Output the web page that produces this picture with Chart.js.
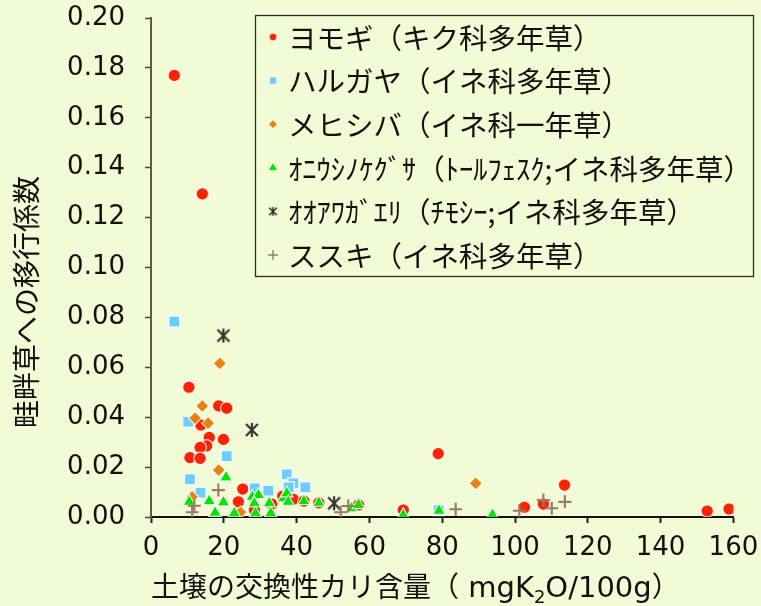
<!DOCTYPE html>
<html>
<head>
<meta charset="utf-8">
<script src="https://cdn.jsdelivr.net/npm/chart.js@4.4.1/dist/chart.umd.min.js"></script>
<style>
  html, body { margin: 0; padding: 0; background: #F1FCD6; }
  #wrap { width: 761px; height: 606px; }
</style>
</head>
<body>
<div id="wrap"><canvas id="c" width="761" height="606"></canvas></div>
<script>
// Series names (legend order)
const seriesNames = [
  'ヨモギ（キク科多年草）',
  'ハルガヤ（イネ科多年草）',
  'メヒシバ（イネ科一年草）',
  'ｵﾆｳｼﾉｹｸﾞｻ（ﾄｰﾙﾌｪｽｸ;イネ科多年草）',
  'ｵｵｱﾜｶﾞｴﾘ（ﾁﾓｼｰ;イネ科多年草）',
  'ススキ（イネ科多年草）'
];

// Exchangeable K (mgK2O/100g) and transfer coefficient for each species
const yomogiX = [6.4, 14.1, 10.4, 18.6, 20.8, 13.7, 16.0, 19.9, 15.3, 13.5, 10.7, 13.5, 25.2, 24.0, 36.2, 39.1, 33.2, 42.0, 46.1, 28.4, 57.0, 78.9, 113.6, 69.3, 102.6, 107.8, 152.8, 158.8];
const yomogiY = [0.177, 0.1295, 0.052, 0.0445, 0.0436, 0.0369, 0.0319, 0.0311, 0.0285, 0.0279, 0.0238, 0.0235, 0.0112, 0.0061, 0.0084, 0.0071, 0.0052, 0.0064, 0.0057, 0.0028, 0.0048, 0.0254, 0.0128, 0.0028, 0.0039, 0.0052, 0.0024, 0.0032];

const harugayaX = [6.4, 10.2, 20.8, 10.7, 13.6, 37.3, 39.1, 37.8, 42.4, 28.5, 32.2, 79.0];
const harugayaY = [0.0784, 0.0382, 0.0244, 0.0151, 0.0097, 0.0171, 0.0135, 0.0119, 0.0119, 0.0115, 0.0105, 0.0028];

const mehishibaX = [18.9, 14.1, 12.1, 15.7, 18.6, 11.3, 24.6, 89.2];
const mehishibaY = [0.0616, 0.0445, 0.0396, 0.0376, 0.0188, 0.0081, 0.0019, 0.0135];

const oniushiX = [10.5, 16.0, 19.9, 20.6, 17.6, 22.9, 27.8, 29.5, 28.4, 28.7, 32.5, 32.9, 36.4, 37.3, 37.7, 42.0, 46.1, 55.1, 57.0, 69.3, 79.1, 93.8];
const oniushiY = [0.0061, 0.0064, 0.0059, 0.0159, 0.0017, 0.0015, 0.0081, 0.0088, 0.0055, 0.0015, 0.0055, 0.0015, 0.0075, 0.0095, 0.0061, 0.0064, 0.0057, 0.0035, 0.0048, 0.0008, 0.0025, 0.0008];

const ooawaX = [19.9, 27.7, 50.3];
const ooawaY = [0.0727, 0.0349, 0.0055];

const susukiX = [18.5, 11.9, 11.3, 52.1, 54.2, 83.7, 101.2, 107.8, 110.1, 113.7];
const susukiY = [0.0108, 0.0045, 0.0019, 0.0019, 0.0044, 0.0031, 0.0025, 0.0068, 0.0035, 0.0061];

// Axis ticks
const xTickValues = [0, 20, 40, 60, 80, 100, 120, 140, 160];
const xTickLabels = ['0', '20', '40', '60', '80', '100', '120', '140', '160'];
const yTickValues = [0, 0.02, 0.04, 0.06, 0.08, 0.10, 0.12, 0.14, 0.16, 0.18, 0.20];
const yTickLabels = ['0.00', '0.02', '0.04', '0.06', '0.08', '0.10', '0.12', '0.14', '0.16', '0.18', '0.20'];

// Axis titles
const yTitle = '畦畔草への移行係数';
const xTitleParts = [
  { text: '土壌の交換性カリ含量（', kind: 'cjk' },
  { text: ' mgK', kind: 'latin' },
  { text: '2', kind: 'sub' },
  { text: 'O/100g', kind: 'latin' },
  { text: '）', kind: 'cjk' }
];

const BG = '#F1FCD6';
const CJK = '"Noto Sans CJK JP", "Noto Sans", sans-serif';
const LATIN = '"DejaVu Sans", sans-serif';

function toPoints(xs, ys) { return xs.map((v, i) => ({ x: v, y: ys[i] })); }

// Asterisk marker: an X with a vertical stroke
function makeAsterisk(size, lw, color) {
  const c = document.createElement('canvas');
  c.width = size; c.height = size;
  const g = c.getContext('2d');
  const m = size / 2, r = size / 2 - 1;
  g.strokeStyle = color; g.lineWidth = lw; g.lineCap = 'butt';
  g.beginPath();
  g.moveTo(m, m - r); g.lineTo(m, m + r);
  const d = r * 0.85;
  g.moveTo(m - d, m - d); g.lineTo(m + d, m + d);
  g.moveTo(m - d, m + d); g.lineTo(m + d, m - d);
  g.stroke();
  return c;
}
const asteriskBig = makeAsterisk(16, 2.2, '#333');
const asteriskSmall = makeAsterisk(11, 1.4, '#222');

const HALO = 'rgba(255,255,255,0.8)';
const styles = [
  { pointStyle: 'circle',   bg: '#FF2200', border: HALO, bw: 1.2, r: 6.2, lr: 3.7 },
  { pointStyle: 'rect',     bg: '#6CCDFF', border: HALO, bw: 1.5, r: 7.8, lr: 5 },
  { pointStyle: 'rectRot',  bg: '#E9800F', border: HALO, bw: 1.2, r: 6.5, lr: 4.3 },
  { pointStyle: 'triangle', bg: '#00E400', border: HALO, bw: 1.2, r: 7.2, lr: 5.2 },
  { pointStyle: asteriskBig, legendStyle: asteriskSmall, bg: '#333', border: '#333', bw: 0, r: 7, lr: 5 },
  { pointStyle: 'cross',    bg: '#9E7B68', border: '#9E7B68', bw: 2.2, r: 6.5, lr: 5, lbw: 1.4 }
];

const seriesData = [
  toPoints(yomogiX, yomogiY),
  toPoints(harugayaX, harugayaY),
  toPoints(mehishibaX, mehishibaY),
  toPoints(oniushiX, oniushiY),
  toPoints(ooawaX, ooawaY),
  toPoints(susukiX, susukiY)
];

const datasets = seriesNames.map((name, i) => ({
  label: name,
  data: seriesData[i],
  order: seriesNames.length - 1 - i,
  pointStyle: styles[i].pointStyle,
  backgroundColor: styles[i].bg,
  borderColor: styles[i].border,
  borderWidth: styles[i].bw,
  pointRadius: styles[i].r,
  pointHoverRadius: styles[i].r,
  showLine: false
}));

const backgroundPlugin = {
  id: 'paperBackground',
  beforeDraw(chart) {
    const ctx = chart.ctx;
    ctx.save();
    ctx.fillStyle = BG;
    ctx.fillRect(0, 0, chart.width, chart.height);
    ctx.restore();
  }
};

const titlesPlugin = {
  id: 'axisTitles',
  afterDraw(chart) {
    const ctx = chart.ctx;
    ctx.save();
    ctx.fillStyle = '#111';
    // vertical title
    ctx.translate(26, 302);
    ctx.rotate(-Math.PI / 2);
    ctx.font = '28px ' + CJK;
    ctx.textAlign = 'center';
    ctx.textBaseline = 'middle';
    ctx.fillText(yTitle, 0, 0);
    ctx.restore();

    // horizontal title with subscript
    ctx.save();
    ctx.fillStyle = '#111';
    ctx.textAlign = 'left';
    ctx.textBaseline = 'alphabetic';
    let x = 151;
    const base = 597;
    xTitleParts.forEach(p => {
      let font, dy = 0;
      if (p.kind === 'cjk') font = '28px ' + CJK;
      else if (p.kind === 'latin') font = '29px ' + LATIN;
      else { font = '18px ' + LATIN; dy = 6; }
      ctx.font = font;
      ctx.fillText(p.text, x, base + dy);
      x += ctx.measureText(p.text).width;
    });
    ctx.restore();
  }
};

const legendPlugin = {
  id: 'boxedLegend',
  afterDraw(chart) {
    const ctx = chart.ctx;
    const box = { x: 255.5, y: 15.5, w: 498, h: 261 };
    ctx.save();
    ctx.fillStyle = BG;
    ctx.fillRect(box.x, box.y, box.w, box.h);
    ctx.strokeStyle = '#2a2a2a';
    ctx.lineWidth = 1.3;
    ctx.strokeRect(box.x, box.y, box.w, box.h);
    chart.data.datasets.forEach((ds, i) => {
      const cy = 37 + i * 43.6;
      const st = styles[i];
      ctx.fillStyle = st.bg;
      ctx.strokeStyle = st.border;
      ctx.lineWidth = st.lbw || 0.8;
      Chart.helpers.drawPoint(ctx, {
        pointStyle: st.legendStyle || st.pointStyle,
        radius: st.lr,
        rotation: 0,
        borderWidth: st.lbw || (st.bw ? 0.8 : 0)
      }, 273, cy);
      ctx.fillStyle = '#111';
      ctx.font = '28.5px ' + CJK;
      ctx.textAlign = 'left';
      ctx.textBaseline = 'middle';
      ctx.fillText(ds.label, 288, cy + 1);
    });
    ctx.restore();
  }
};

new Chart(document.getElementById('c'), {
  type: 'scatter',
  data: { datasets },
  plugins: [backgroundPlugin, titlesPlugin, legendPlugin],
  options: {
    responsive: false,
    animation: false,
    devicePixelRatio: 1,
    layout: { padding: { top: 18, right: 27.6, left: 0, bottom: 0 } },
    plugins: { legend: { display: false }, tooltip: { enabled: false } },
    scales: {
      x: {
        type: 'linear',
        min: 0, max: 160,
        afterBuildTicks(scale) { scale.ticks = xTickValues.map(v => ({ value: v })); },
        afterFit(scale) {
          scale.height = 89;
          scale.paddingLeft = 0; scale.paddingRight = 0;
        },
        ticks: {
          callback: (v, i) => xTickLabels[i],
          font: { family: LATIN, size: 26 },
          color: '#111',
          padding: 10,
          maxRotation: 0,
          autoSkip: false
        },
        grid: { drawOnChartArea: false, drawTicks: true, tickLength: 6, tickColor: '#222', tickWidth: 2 },
        border: { display: true, color: '#111', width: 2 },
        title: { display: false }
      },
      y: {
        type: 'linear',
        min: 0, max: 0.2,
        afterBuildTicks(scale) { scale.ticks = yTickValues.map(v => ({ value: v })); },
        afterFit(scale) {
          scale.width = 151;
          scale.paddingTop = 0; scale.paddingBottom = 0;
        },
        ticks: {
          callback: (v, i) => yTickLabels[i],
          font: { family: LATIN, size: 26 },
          color: '#111',
          padding: 20,
          autoSkip: false
        },
        grid: { drawOnChartArea: false, drawTicks: true, tickLength: 6, tickColor: '#444', tickWidth: 1.5 },
        border: { display: true, color: '#5A5C4A', width: 2 },
        title: { display: false }
      }
    }
  }
});
</script>
</body>
</html>
